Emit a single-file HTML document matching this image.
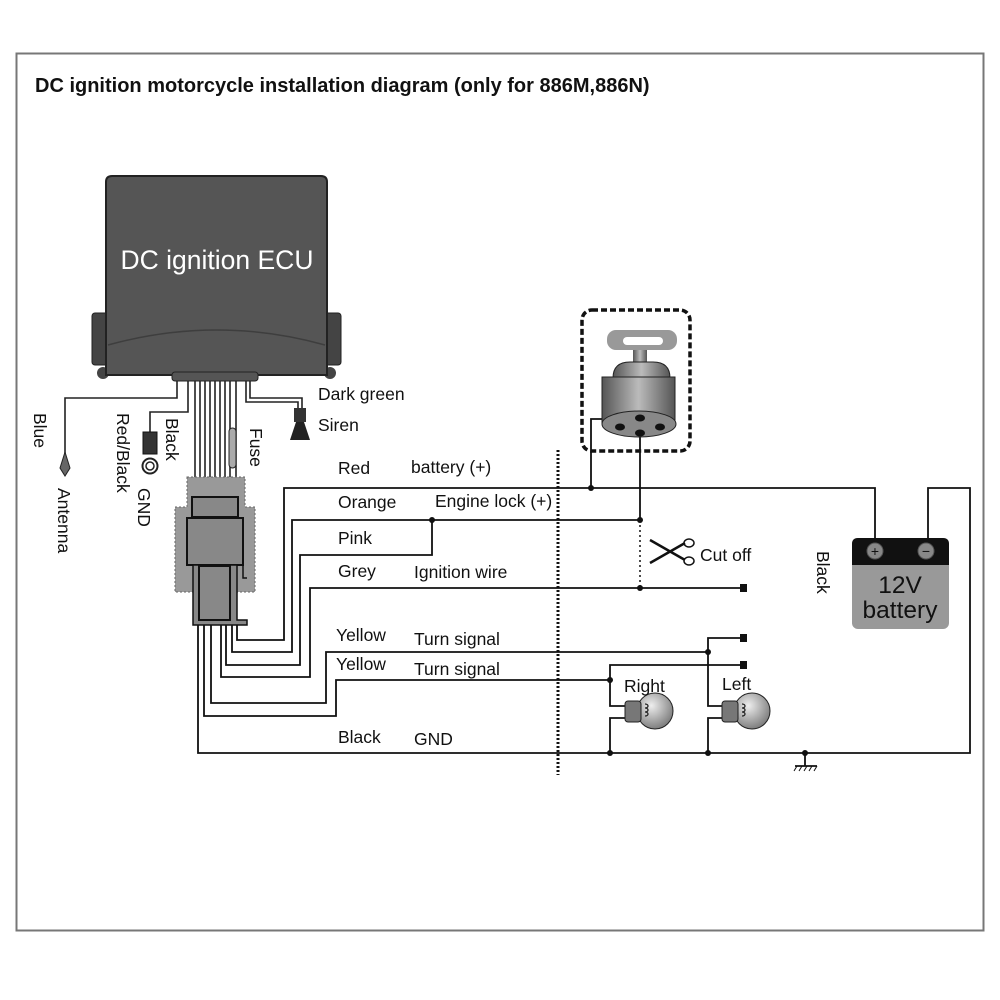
<!DOCTYPE html>
<html><head><meta charset="utf-8"><style>
body{margin:0;background:#fff}
svg{display:block}
text{font-family:"Liberation Sans",sans-serif;fill:#111}
</style></head><body>
<svg width="1000" height="1000" viewBox="0 0 1000 1000" xmlns="http://www.w3.org/2000/svg">
<defs>
<linearGradient id="cyl" x1="0" x2="1"><stop offset="0" stop-color="#555"/><stop offset=".5" stop-color="#bbb"/><stop offset="1" stop-color="#555"/></linearGradient>
<radialGradient id="bulb" cx=".4" cy=".35" r=".7"><stop offset="0" stop-color="#eee"/><stop offset="1" stop-color="#777"/></radialGradient>
</defs>
<rect x="16.5" y="53.5" width="967" height="877" fill="none" stroke="#777" stroke-width="2"/>
<text x="35" y="92" font-size="20" font-weight="bold">DC ignition motorcycle installation diagram (only for 886M,886N)</text>

<!-- ECU -->
<rect x="92" y="313" width="16" height="52" rx="3" fill="#444" stroke="#222"/>
<rect x="325" y="313" width="16" height="52" rx="3" fill="#444" stroke="#222"/>
<circle cx="103" cy="373" r="6" fill="#444"/><circle cx="330" cy="373" r="6" fill="#444"/>
<path d="M106 182 Q106 176 112 176 L321 176 Q327 176 327 182 L327 375 L106 375 Z" fill="#555" stroke="#222" stroke-width="2"/>
<path d="M108 345 Q217 315 325 345" fill="none" stroke="#3e3e3e" stroke-width="1.5"/>
<text x="217" y="269" font-size="26.5" text-anchor="middle" style="fill:#fff">DC ignition ECU</text>
<rect x="172" y="372" width="86" height="9" rx="3" fill="#555" stroke="#222"/>

<g fill="none" stroke="#222" stroke-width="1.6">
<path d="M195 381V498M200 381V498M205 381V498M210 381V498M215 381V498M220 381V498M225 381V498M230 381V498M236 381V498"/>
<path d="M177 381V398H65V455"/>
<path d="M188 381V412H150V433"/>
<path d="M246 381V402H298V408M250 381V398H302V408"/>
</g>
<path d="M60 468 L65 452 L70 468 L65 476Z" fill="#666" stroke="#222"/>
<rect x="143" y="432" width="14" height="22" fill="#333" stroke="#111"/>
<circle cx="150" cy="466" r="7.5" fill="#fff" stroke="#222" stroke-width="2"/><circle cx="150" cy="466" r="4" fill="none" stroke="#222" stroke-width="1.5"/>
<rect x="229" y="428" width="7" height="40" rx="3.5" fill="#aaa" stroke="#222"/>
<rect x="294" y="408" width="12" height="14" fill="#333"/>
<path d="M290 440 L296 422 L304 422 L310 440Z" fill="#222"/>

<!-- connector block -->
<path d="M187 477H245V507H255V592H175V507H187Z" fill="#999" stroke="#666" stroke-dasharray="2 2"/>
<rect x="192" y="497" width="46" height="20" fill="#888" stroke="#111" stroke-width="2"/>
<rect x="187" y="518" width="56" height="47" fill="#888" stroke="#111" stroke-width="2"/>
<path d="M243 540V578H247" fill="none" stroke="#111" stroke-width="1.5"/>
<path d="M193 565H237V620H247V625H193Z" fill="#888" stroke="#111" stroke-width="1.5"/>
<rect x="199" y="566" width="31" height="54" fill="#888" stroke="#111" stroke-width="2"/>

<g fill="none" stroke="#111" stroke-width="1.8">
<path d="M237 625V640H284V488H875V545"/>
<path d="M232 625V652H292V520H640"/>
<path d="M226 625V665H300V555H432V520"/>
<path d="M221 625V677H310V588H743"/>
<path d="M211 625V703H326V652H708"/>
<path d="M204 625V716H336V680H610"/>
<path d="M198 625V753H970V488H928V545"/>
<path d="M591 488V419H640"/>
<path d="M640 520V433"/>
<path d="M708 652V638H743M708 652V706H722M722 718H708V753"/>
<path d="M610 680V665H743M610 680V706H625M625 718H610V753"/>
<path d="M805 753V766M795 766H817"/>
<path d="M797 766l-3 5M802 766l-3 5M807 766l-3 5M812 766l-3 5M817 766l-3 5" stroke-width="1"/>
</g>
<path d="M640 520V588" stroke="#111" stroke-dasharray="2 3" stroke-width="1.5"/>
<path d="M558 450V775" stroke="#111" stroke-dasharray="2 2" stroke-width="3"/>
<g fill="#111">
<circle cx="432" cy="520" r="3"/><circle cx="591" cy="488" r="3"/><circle cx="640" cy="520" r="3"/><circle cx="640" cy="588" r="3"/>
<circle cx="708" cy="652" r="3"/><circle cx="610" cy="680" r="3"/><circle cx="610" cy="753" r="3"/><circle cx="708" cy="753" r="3"/><circle cx="805" cy="753" r="3"/>
<rect x="740" y="584" width="7" height="8"/><rect x="740" y="634" width="7" height="8"/><rect x="740" y="661" width="7" height="8"/>
</g>

<!-- ignition switch -->
<rect x="582" y="310" width="108" height="141" rx="10" fill="none" stroke="#111" stroke-width="3.5" stroke-dasharray="6 3"/>
<rect x="607" y="330" width="70" height="20" rx="9" fill="#999"/>
<rect x="623" y="337" width="40" height="8" rx="4" fill="#fff"/>
<rect x="633" y="350" width="14" height="13" fill="url(#cyl)"/>
<path d="M613 378 Q613 362 630 362 L653 362 Q670 362 670 378Z" fill="url(#cyl)" stroke="#222"/>
<path d="M602 377H675V424H602Z" fill="url(#cyl)" stroke="#222"/>
<ellipse cx="639" cy="424" rx="37" ry="13" fill="#888" stroke="#222"/>
<g fill="#111"><ellipse cx="640" cy="418" rx="5" ry="3.5"/><ellipse cx="620" cy="427" rx="5" ry="3.5"/><ellipse cx="660" cy="427" rx="5" ry="3.5"/><ellipse cx="640" cy="433" rx="5" ry="3.5"/></g>

<!-- scissors -->
<g stroke="#111" fill="none" stroke-width="2.5">
<path d="M650 540 L685 560 M650 563 L685 543"/>
<ellipse cx="689" cy="543" rx="5" ry="4" stroke-width="1.5"/><ellipse cx="689" cy="561" rx="5" ry="4" stroke-width="1.5"/>
</g>
<text x="700" y="561" font-size="17.5">Cut off</text>

<!-- bulbs -->
<g>
<circle cx="655" cy="711" r="18" fill="url(#bulb)" stroke="#222"/>
<rect x="625" y="701" width="16" height="21" rx="3" fill="#777" stroke="#222"/>
<path d="M645 704c4 0 4 4 0 4c4 0 4 4 0 4c4 0 4 4 0 4" fill="none" stroke="#222" stroke-width="1.3"/>
<circle cx="752" cy="711" r="18" fill="url(#bulb)" stroke="#222"/>
<rect x="722" y="701" width="16" height="21" rx="3" fill="#777" stroke="#222"/>
<path d="M742 704c4 0 4 4 0 4c4 0 4 4 0 4c4 0 4 4 0 4" fill="none" stroke="#222" stroke-width="1.3"/>
</g>
<text x="624" y="692" font-size="17.5">Right</text>
<text x="722" y="690" font-size="17.5">Left</text>

<!-- battery -->
<rect x="852" y="538" width="97" height="91" rx="6" fill="#999"/>
<path d="M852 565V544Q852 538 858 538H943Q949 538 949 544V565Z" fill="#111"/>
<circle cx="875" cy="551" r="8" fill="#888" stroke="#555"/><text x="875" y="556" font-size="14" text-anchor="middle">+</text>
<circle cx="926" cy="551" r="8" fill="#888" stroke="#555"/><text x="926" y="556" font-size="14" text-anchor="middle">−</text>
<text x="900" y="593" font-size="24.5" text-anchor="middle">12V</text>
<text x="900" y="618" font-size="24.5" text-anchor="middle">battery</text>

<!-- labels -->
<g font-size="17.5">
<text x="318" y="400">Dark green</text>
<text x="318" y="431">Siren</text>
<text x="338" y="474">Red</text><text x="411" y="473">battery (+)</text>
<text x="338" y="508">Orange</text><text x="435" y="507">Engine lock (+)</text>
<text x="338" y="544">Pink</text>
<text x="338" y="577">Grey</text><text x="414" y="578">Ignition wire</text>
<text x="336" y="641">Yellow</text><text x="414" y="645">Turn signal</text>
<text x="336" y="670">Yellow</text><text x="414" y="675">Turn signal</text>
<text x="338" y="743">Black</text><text x="414" y="745">GND</text>
<text transform="translate(34,413) rotate(90)">Blue</text>
<text transform="translate(58,488) rotate(90)">Antenna</text>
<text transform="translate(117,413) rotate(90)">Red/Black</text>
<text transform="translate(138,488) rotate(90)">GND</text>
<text transform="translate(166,418) rotate(90)">Black</text>
<text transform="translate(250,428) rotate(90)">Fuse</text>
<text transform="translate(817,551) rotate(90)">Black</text>
</g>
</svg>
</body></html>
